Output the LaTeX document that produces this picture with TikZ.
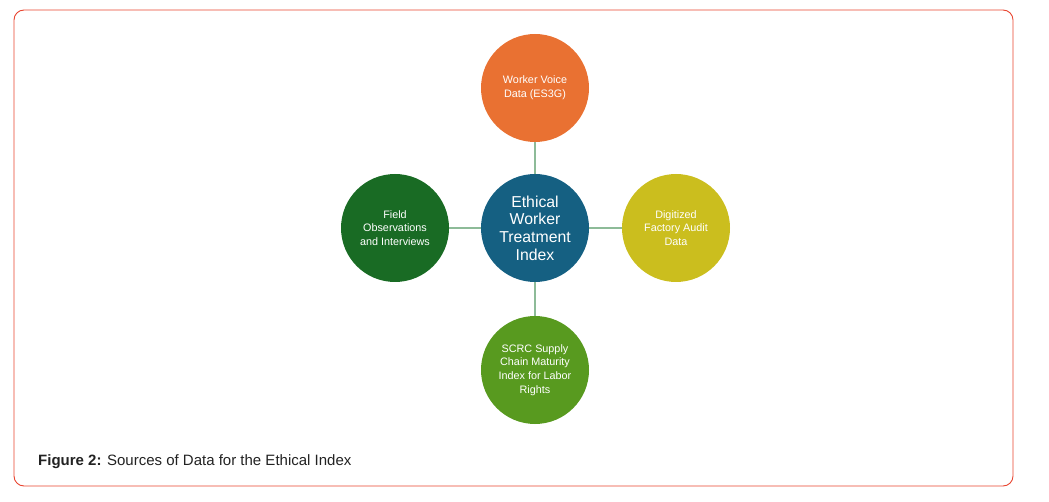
\documentclass[tikz,border=0pt]{standalone}
\usepackage{fontspec}
\setmainfont{Liberation Sans}
\definecolor{frame}{HTML}{E8432E}
\definecolor{link}{HTML}{8DBB98}
\definecolor{corange}{HTML}{E97132}
\definecolor{cblue}{HTML}{156082}
\definecolor{cdgreen}{HTML}{196B24}
\definecolor{cyellow}{HTML}{CBBE1E}
\definecolor{cgreen}{HTML}{589A1F}
\definecolor{captext}{HTML}{222222}
\begin{document}
\begin{tikzpicture}[x=1pt,y=-1pt,
  src/.style={circle,minimum size=108pt,inner sep=0pt,text=white,align=center,
    font=\fontsize{10.8}{13.6}\selectfont},
  hub/.style={circle,minimum size=108pt,inner sep=0pt,fill=cblue,text=white,align=center,
    font=\fontsize{15.8}{17.6}\selectfont},
  conn/.style={draw=link,line width=1.6pt}]
\useasboundingbox (0,0) rectangle (1049,502);
\draw[frame,line width=0.9pt,rounded corners=10pt] (14,10) rectangle (1013,486);
\node[hub] (c) at (535,228) {Ethical\\Worker\\Treatment\\Index};
\node[src,fill=corange] (t) at (535,88) {Worker Voice\\Data (ES3G)};
\node[src,fill=cdgreen] (l) at (395,228) {Field\\Observations\\and Interviews};
\node[src,fill=cyellow] (r) at (676,228) {Digitized\\Factory Audit\\Data};
\node[src,fill=cgreen] (b) at (535,370) {SCRC Supply\\Chain Maturity\\Index for Labor\\Rights};
\draw[conn] (c) -- (t);
\draw[conn] (c) -- (l);
\draw[conn] (c) -- (r);
\draw[conn] (c) -- (b);
\node[anchor=west,text=captext,font=\fontsize{15}{18}\selectfont,inner sep=0pt] (cap) at (38,462) {\textbf{Figure 2:} Sources of Data for the Ethical Index};
\end{tikzpicture}
\end{document}
